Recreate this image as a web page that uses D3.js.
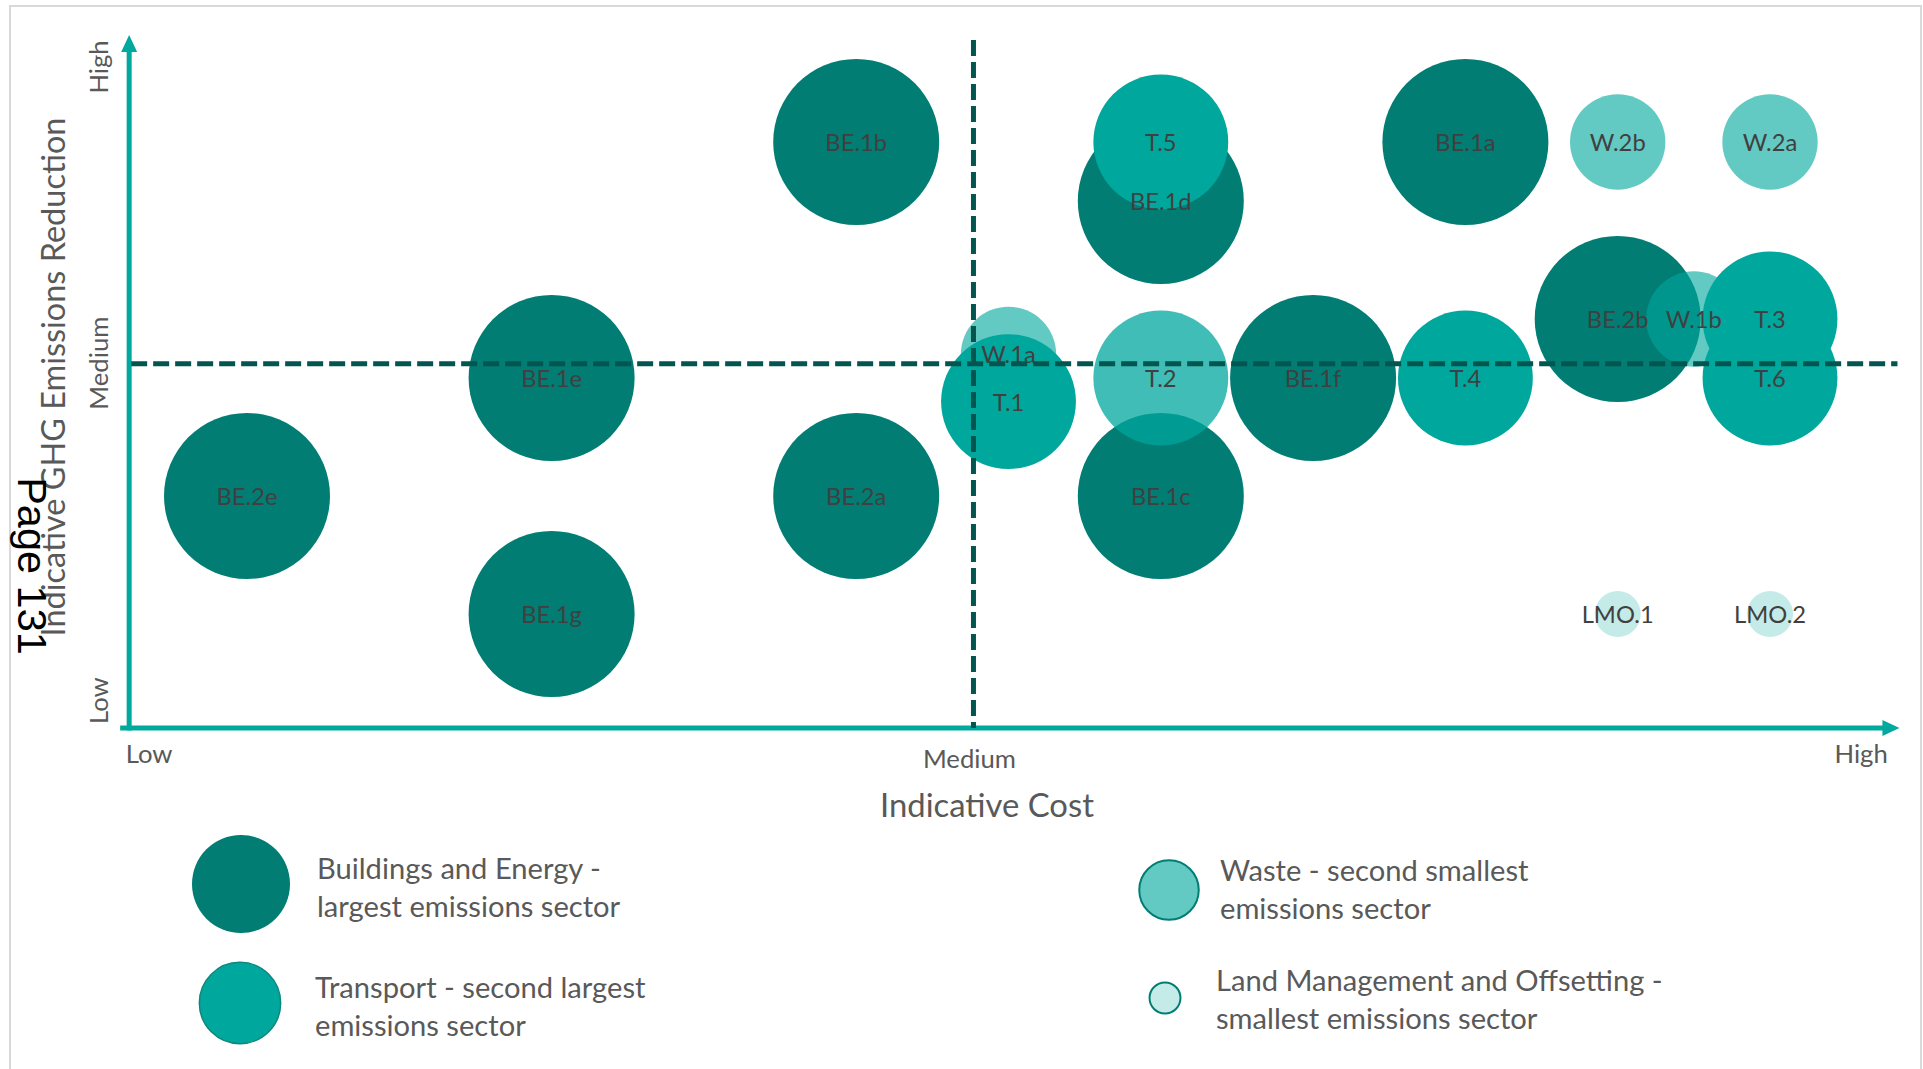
<!DOCTYPE html>
<html>
<head>
<meta charset="utf-8">
<script src="https://cdn.jsdelivr.net/npm/d3@7"></script>
<style>
  html, body { margin: 0; padding: 0; background: #ffffff; }
  svg { display: block; }
</style>
</head>
<body>
<svg id="chart" width="1923" height="1069"></svg>
<script>
// ---------------- DATA ----------------
const bubbleLabels = ["BE.1a","BE.1b","BE.1c","BE.1d","BE.1e","BE.1f","BE.1g","BE.2a","BE.2b","BE.2e",
                      "W.1a","W.1b","W.2a","W.2b",
                      "T.1","T.2","T.3","T.4","T.5","T.6",
                      "LMO.1","LMO.2"];
const bubbleSectors = ["BE","BE","BE","BE","BE","BE","BE","BE","BE","BE",
                       "W","W","W","W",
                       "T","T","T","T","T","T",
                       "LMO","LMO"];
// indicative cost (grid units) and indicative GHG emissions reduction (grid units)
const costValues      = [9, 5, 7, 7, 3, 8, 3, 5, 10, 1,   6, 10.5, 11, 10,   6, 7, 11, 9, 7, 11,   10, 11];
const reductionValues = [4, 4, 1, 3.5, 2, 2, 0, 1, 2.5, 1, 2.2, 2.5, 4, 4,   1.8, 2, 2.5, 2, 4, 2,  0, 0];

const sectorKeys   = ["BE", "T", "W", "LMO"];
const sectorSizes  = [100, 66, 33, 7.7];   // relative emissions size of sector
const legendLines  = [["Buildings and Energy -", "largest emissions sector"],
                      ["Transport - second largest", "emissions sector"],
                      ["Waste - second smallest", "emissions sector"],
                      ["Land Management and Offsetting -", "smallest emissions sector"]];

const costTickLabels      = ["Low", "Medium", "High"];
const costTickValues      = [0.2, 5.74, 11.77];
const reductionTickLabels = ["Low", "Medium", "High"];
const reductionTickValues = [-0.73, 2.13, 4.64];
const costDivider = 5.77, reductionDivider = 2.12;
const costAxisExtent = [0.2, 11.85], reductionAxisExtent = [-0.966, 4.89];

const xTitle = "Indicative Cost";
const yTitle = "Indicative GHG Emissions Reduction";
const pageLabel = "Page 131";

// ---------------- STYLE ----------------
const FONT = "Lato, 'Open Sans', sans-serif";
const colBE = "#017d74", colT = "#00a79d", dashCol = "#02564f", axisCol = "#00a99d";
const sectorFill    = {BE: colBE, T: colT, W: colT, LMO: colT};
const sectorOpacity = {BE: 1, T: 1, W: 0.61, LMO: 0.23};
const opacityOverride = {"T.2": 0.75};
const drawOrder = {BE: 0, W: 1, T: 2, LMO: 3};

const svg = d3.select("#chart");

const measure = (str, family, size) => {
  const t = svg.append("text").attr("font-family", family).attr("font-size", size).text(str);
  const w = t.node().getComputedTextLength();
  t.remove();
  return w;
};
const fit = (str, target) => 100 * target / measure(str, FONT, 100);

const fsBubble = fit("LMO.1", 72);
const fsTick   = fit("Medium", 93);
const fsXTitle = fit(xTitle, 214);
const fsYTitle = fit(yTitle, 519);
const fsLegend = fit(legendLines[0][0], 284);

// ---------------- SCALES ----------------
const x = d3.scaleLinear().domain([1, 11]).range([247, 1770]);
const y = d3.scaleLinear().domain([0, 4]).range([614, 142]);
const sizeByKey = Object.fromEntries(sectorKeys.map((k, i) => [k, sectorSizes[i]]));
const r = d3.scaleSqrt().domain([0, 100]).range([0, 83]);
const rLegend = d3.scalePow().exponent(0.45).domain([0, 100]).range([0, 49]);

// ---------------- FRAME ----------------
svg.append("rect").attr("x", 10).attr("y", 6).attr("width", 1911).attr("height", 1120)
  .attr("fill", "none").attr("stroke", "#d9d9d9").attr("stroke-width", 2);

// axes (arrows)
const x0 = x(costAxisExtent[0]), x1 = x(costAxisExtent[1]);
const yb = y(reductionAxisExtent[0]), yt = y(reductionAxisExtent[1]);
const axisX = x(costAxisExtent[0]) + 4;
svg.append("line").attr("x1", x0 - 5).attr("y1", yb).attr("x2", x1 - 14).attr("y2", yb)
  .attr("stroke", axisCol).attr("stroke-width", 5);
svg.append("path").attr("d", `M${x1},${yb} L${x1 - 17},${yb - 8} L${x1 - 17},${yb + 8} Z`).attr("fill", axisCol);
svg.append("line").attr("x1", axisX).attr("y1", yb + 2.5).attr("x2", axisX).attr("y2", yt + 14)
  .attr("stroke", axisCol).attr("stroke-width", 5);
svg.append("path").attr("d", `M${axisX},${yt - 2} L${axisX - 8},${yt + 15} L${axisX + 8},${yt + 15} Z`).attr("fill", axisCol);

// ---------------- BUBBLES ----------------
const bubbles = bubbleLabels.map((lab, i) => ({
  label: lab, sector: bubbleSectors[i], cost: costValues[i], red: reductionValues[i]
})).sort((a, b) => drawOrder[a.sector] - drawOrder[b.sector]);

svg.append("g").selectAll("circle").data(bubbles).join("circle")
  .attr("cx", d => x(d.cost)).attr("cy", d => y(d.red))
  .attr("r", d => r(sizeByKey[d.sector]))
  .attr("fill", d => sectorFill[d.sector])
  .attr("fill-opacity", d => opacityOverride[d.label] ?? sectorOpacity[d.sector]);

svg.append("g").selectAll("text").data(bubbles).join("text")
  .attr("x", d => x(d.cost)).attr("y", d => y(d.red))
  .attr("dy", "0.38em")
  .attr("text-anchor", "middle")
  .attr("font-family", FONT).attr("font-size", fsBubble)
  .attr("fill", "#404040")
  .text(d => d.label);

// ---------------- DIVIDERS ----------------
svg.append("line").attr("x1", axisX + 2).attr("x2", x(costAxisExtent[1]) - 2)
  .attr("y1", y(reductionDivider)).attr("y2", y(reductionDivider))
  .attr("stroke", dashCol).attr("stroke-width", 5).attr("stroke-dasharray", "16 6");
svg.append("line").attr("x1", x(costDivider)).attr("x2", x(costDivider))
  .attr("y1", y(reductionAxisExtent[1]) + 3).attr("y2", yb)
  .attr("stroke", dashCol).attr("stroke-width", 5).attr("stroke-dasharray", "16 6");

// ---------------- TICK LABELS ----------------
const gx = svg.append("g").attr("transform", `translate(0,${yb})`)
  .call(d3.axisBottom(x).tickValues(costTickValues).tickFormat((d, i) => costTickLabels[i]).tickSize(0));
gx.select(".domain").remove();
gx.selectAll("text")
  .attr("font-family", FONT).attr("font-size", fsTick).attr("fill", "#595959")
  .attr("dy", 0)
  .attr("x", 0)
  .attr("y", (d, i) => i === 1 ? 40 : 35)
  .attr("text-anchor", (d, i) => ["start", "middle", "end"][i]);

const gy = svg.append("g").attr("transform", `translate(${axisX},0)`)
  .call(d3.axisLeft(y).tickValues(reductionTickValues).tickFormat((d, i) => reductionTickLabels[i]).tickSize(0));
gy.select(".domain").remove();
gy.selectAll("text")
  .attr("font-family", FONT).attr("font-size", fsTick).attr("fill", "#595959")
  .attr("transform", "rotate(-90)")
  .attr("x", 0).attr("y", -21).attr("dy", 0)
  .attr("text-anchor", "middle");

// ---------------- AXIS TITLES ----------------
svg.append("text").attr("x", 987).attr("y", 817).attr("text-anchor", "middle")
  .attr("font-family", FONT).attr("font-size", fsXTitle).attr("fill", "#595959").text(xTitle);
svg.append("text").attr("transform", "translate(65,377) rotate(-90)").attr("text-anchor", "middle")
  .attr("font-family", FONT).attr("font-size", fsYTitle).attr("fill", "#595959").text(yTitle);

// ---------------- LEGEND ----------------
const legendLayout = [
  {cx: 241, cy: 884, tx: 317, ty: 879},
  {cx: 240, cy: 1003, tx: 315, ty: 998},
  {cx: 1169, cy: 890, tx: 1220, ty: 881},
  {cx: 1165, cy: 998, tx: 1216, ty: 991}
];
const legendStroke = {BE: "none", T: "#0d877e", W: colBE, LMO: colBE};
const legendStrokeW = {BE: 0, T: 1.5, W: 2, LMO: 2};
const lg = svg.append("g");
sectorKeys.forEach((k, i) => {
  const L = legendLayout[i];
  const fillOp = sectorOpacity[k];
  lg.append("circle").attr("cx", L.cx).attr("cy", L.cy).attr("r", rLegend(sectorSizes[i]))
    .attr("fill", d3.interpolateRgb("#ffffff", sectorFill[k])(fillOp))
    .attr("stroke", legendStroke[k]).attr("stroke-width", legendStrokeW[k]);
  const t = lg.append("text").attr("font-family", FONT).attr("font-size", fsLegend).attr("fill", "#595959");
  legendLines[i].forEach((line, j) => {
    t.append("tspan").attr("x", L.tx).attr("y", L.ty + j * 37.5).text(line);
  });
});

// ---------------- PAGE LABEL ----------------
svg.append("text").attr("transform", "translate(18,566) rotate(90)").attr("text-anchor", "middle")
  .attr("font-family", "'Liberation Sans', Arial, sans-serif").attr("font-size", 41.5)
  .attr("fill", "#000000").text(pageLabel);
</script>
</body>
</html>
